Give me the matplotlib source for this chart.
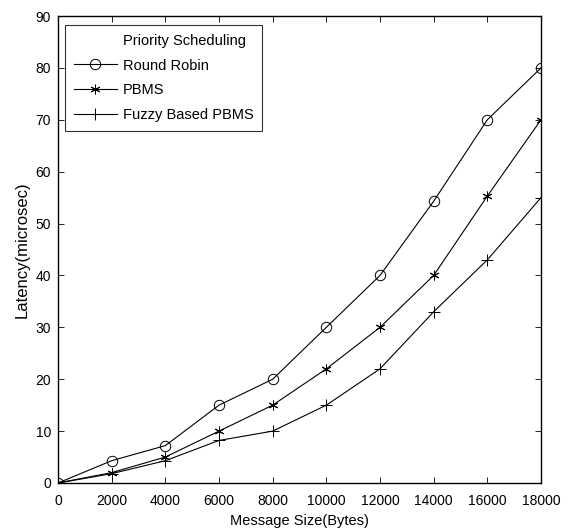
import matplotlib
matplotlib.use("Agg")
import matplotlib.pyplot as plt
from matplotlib.lines import Line2D

plt.rcParams["font.family"] = ["Liberation Sans", "DejaVu Sans"]
plt.rcParams["font.size"] = 10

msg_size = [0, 2000, 4000, 6000, 8000, 10000, 12000, 14000, 16000, 18000]
round_robin = [0, 4.3, 7.2, 15, 20, 30, 40, 54.3, 70, 80]
pbms = [0, 2, 5, 10, 15, 22, 30, 40, 55.3, 70]
fuzzy_pbms = [0, 1.8, 4.3, 8.2, 10, 15, 22, 33, 43, 55]

fig = plt.figure(figsize=(5.7, 5.31), dpi=100)
ax = fig.add_axes([58 / 570, 1 - 483 / 531, (541 - 58) / 570, (483 - 16) / 531])

lw = 0.8
ax.plot(msg_size, round_robin, color="black", lw=lw, marker="o", ms=7.5,
        mfc="none", mew=0.7, label="Round Robin")
ax.plot(msg_size, pbms, color="black", lw=lw, marker=(6, 2, 0), ms=7,
        mew=0.7, label="PBMS")
ax.plot(msg_size, fuzzy_pbms, color="black", lw=lw, marker="+", ms=8,
        mew=0.7, label="Fuzzy Based PBMS")

ax.set_xlim(0, 18000)
ax.set_ylim(0, 90)
ax.set_xticks(range(0, 18001, 2000))
ax.set_yticks(range(0, 91, 10))
ax.tick_params(direction="in", top=True, right=True, length=4, width=0.6,
               labelsize=10, pad=5)
ax.tick_params(axis="x", pad=8)
for s in ax.spines.values():
    s.set_linewidth(1.0)

ax.set_xlabel("Message Size(Bytes)", fontsize=10.5, labelpad=4)
ax.set_ylabel("Latency(microsec)", fontsize=12, labelpad=4)

handles, labels = ax.get_legend_handles_labels()
blank = Line2D([], [], color="none")
leg = ax.legend([blank] + handles, ["Priority Scheduling"] + labels,
                loc="upper left", bbox_to_anchor=(0.0145, 0.981),
                fontsize=10.5, frameon=True, fancybox=False, edgecolor="black",
                handlelength=2.95, borderpad=0.6, labelspacing=0.75,
                handletextpad=0.4, borderaxespad=0)
leg.get_frame().set_linewidth(0.8)

fig.savefig("out.png", dpi=100)
